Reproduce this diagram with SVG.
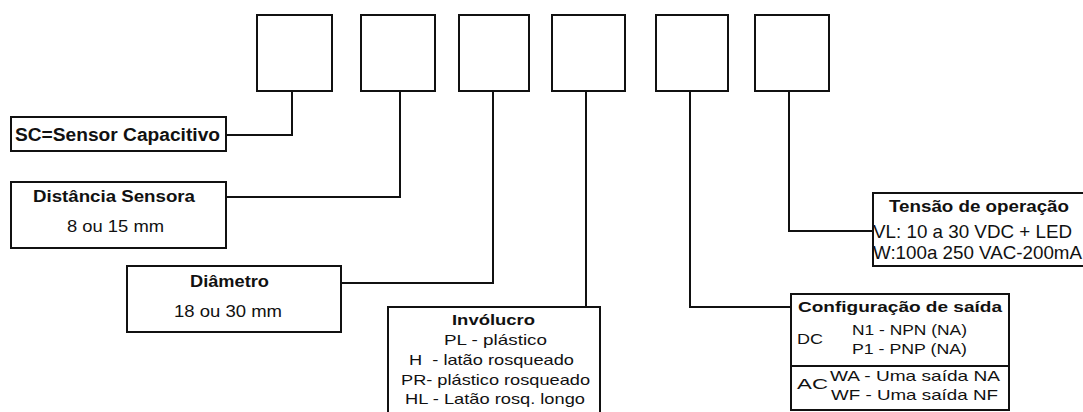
<svg xmlns="http://www.w3.org/2000/svg" width="1083" height="412" viewBox="0 0 1083 412">
<style>
.box{fill:#fff;stroke:#111;stroke-width:2}
.ln{fill:none;stroke:#111;stroke-width:2}
.b{font-family:"Liberation Sans",Arial,sans-serif;font-weight:bold;fill:#111}
.r{font-family:"Liberation Sans",Arial,sans-serif;fill:#111}
</style>
<rect width="1083" height="412" fill="#fff"/>
<g id="connectors">
<polyline class="ln" points="227,135 292,135 292,92"/>
<polyline class="ln" points="227,197 400,197 400,92"/>
<polyline class="ln" points="342,283 493,283 493,92"/>
<polyline class="ln" points="586,92 586,306"/>
<polyline class="ln" points="690,92 690,307 790,307"/>
<polyline class="ln" points="789,92 789,231 872,231"/>
</g>
<g id="slot1"><rect class="box" x="257" y="15" width="75" height="76"/></g>
<g id="slot2"><rect class="box" x="361" y="15" width="74" height="76"/></g>
<g id="slot3"><rect class="box" x="459" y="15" width="70" height="76"/></g>
<g id="slot4"><rect class="box" x="552" y="15" width="73" height="76"/></g>
<g id="slot5"><rect class="box" x="656" y="15" width="72" height="76"/></g>
<g id="slot6"><rect class="box" x="755" y="15" width="74" height="76"/></g>
<g id="sc">
<rect class="box" x="11" y="117" width="215" height="34"/>
<text class="b" x="15" y="141" font-size="18" textLength="205" lengthAdjust="spacingAndGlyphs">SC=Sensor Capacitivo</text>
</g>
<g id="distancia">
<rect class="box" x="11" y="182" width="215" height="66"/>
<text class="b" x="33" y="202" font-size="16.5" textLength="162" lengthAdjust="spacingAndGlyphs">Distância Sensora</text>
<text class="r" x="67" y="232" font-size="16.5" textLength="97" lengthAdjust="spacingAndGlyphs">8 ou 15 mm</text>
</g>
<g id="diametro">
<rect class="box" x="127" y="266" width="214" height="66"/>
<text class="b" x="190" y="287" font-size="16" textLength="79" lengthAdjust="spacingAndGlyphs">Diâmetro</text>
<text class="r" x="174" y="317" font-size="16.5" textLength="108" lengthAdjust="spacingAndGlyphs">18 ou 30 mm</text>
</g>
<g id="involucro">
<rect class="box" x="388" y="307" width="212" height="112"/>
<text class="b" x="452" y="325" font-size="15" textLength="83" lengthAdjust="spacingAndGlyphs">Invólucro</text>
<text class="r" x="444" y="345" font-size="15" textLength="103" lengthAdjust="spacingAndGlyphs">PL - plástico</text>
<text class="r" x="409" y="365" font-size="15" textLength="165" lengthAdjust="spacingAndGlyphs" xml:space="preserve">H  - latão rosqueado</text>
<text class="r" x="401" y="385" font-size="15" textLength="189" lengthAdjust="spacingAndGlyphs">PR- plástico rosqueado</text>
<text class="r" x="405" y="404" font-size="15" textLength="180" lengthAdjust="spacingAndGlyphs">HL - Latão rosq. longo</text>
</g>
<g id="tensao">
<rect class="box" x="873" y="193" width="220" height="73"/>
<text class="b" x="889" y="212" font-size="16.5" textLength="180" lengthAdjust="spacingAndGlyphs">Tensão de operação</text>
<text class="r" x="873" y="238" font-size="18.5" textLength="199" lengthAdjust="spacingAndGlyphs">VL: 10 a 30 VDC + LED</text>
<text class="r" x="873" y="259" font-size="18.5" textLength="209" lengthAdjust="spacingAndGlyphs">W:100a 250 VAC-200mA</text>
</g>
<g id="configuracao">
<rect class="box" x="791" y="294" width="218" height="116"/>
<line class="ln" x1="790" y1="366" x2="1010" y2="366"/>
<text class="b" x="798" y="312" font-size="15.5" textLength="204" lengthAdjust="spacingAndGlyphs">Configuração de saída</text>
<text class="r" x="797" y="344" font-size="15" textLength="26" lengthAdjust="spacingAndGlyphs">DC</text>
<text class="r" x="852" y="335" font-size="15" textLength="115" lengthAdjust="spacingAndGlyphs">N1 - NPN (NA)</text>
<text class="r" x="852" y="354" font-size="15" textLength="115" lengthAdjust="spacingAndGlyphs">P1 - PNP (NA)</text>
<text class="r" x="797" y="389" font-size="15" textLength="31" lengthAdjust="spacingAndGlyphs">AC</text>
<text class="r" x="830" y="381" font-size="15" textLength="170" lengthAdjust="spacingAndGlyphs">WA - Uma saída NA</text>
<text class="r" x="831" y="400" font-size="15" textLength="167" lengthAdjust="spacingAndGlyphs">WF - Uma saída NF</text>
</g>
</svg>
